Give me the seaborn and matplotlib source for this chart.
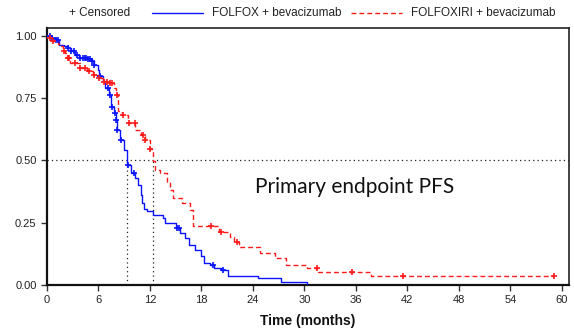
import numpy as np
import pandas as pd
import matplotlib
matplotlib.use("Agg")
import matplotlib.pyplot as plt
from matplotlib.lines import Line2D
import seaborn as sns

# Kaplan-Meier step points (months, progression-free probability)
folfox_t = [0, 0.4, 1.0, 1.4, 2.0, 2.4, 2.8, 3.3, 3.7, 4.8, 5.2, 5.5, 5.9, 6.1, 6.5,
            6.8, 7.2, 7.5, 7.8, 8.1, 8.2, 8.5, 9.0, 9.3, 9.8, 10.3, 10.6, 10.9, 11.1,
            11.3, 11.6, 12.4, 13.5, 13.8, 15.0, 15.5, 16.1, 16.5, 17.3, 17.9, 18.3,
            19.0, 19.5, 20.3, 21.1, 24.6, 27.3, 30.3]
folfox_s = [1.0, 0.99, 0.984, 0.964, 0.957, 0.95, 0.937, 0.924, 0.91, 0.905, 0.897,
            0.884, 0.863, 0.837, 0.817, 0.79, 0.763, 0.716, 0.69, 0.663, 0.62, 0.58,
            0.54, 0.48, 0.45, 0.43, 0.40, 0.36, 0.33, 0.305, 0.295, 0.28, 0.268, 0.25,
            0.23, 0.21, 0.19, 0.16, 0.14, 0.115, 0.09, 0.08, 0.07, 0.06, 0.036, 0.027,
            0.013, 0.0]
folfox_cens = [0.3, 0.6, 1.0, 1.3, 2.5, 2.8, 3.2, 3.5, 3.9, 4.2, 4.4, 4.6, 4.8, 5.0,
               5.2, 5.5, 6.2, 7.1, 7.4, 7.6, 7.9, 8.1, 8.2, 8.6, 9.4, 10.1, 15.2,
               15.4, 19.3, 20.5]

folfoxiri_t = [0, 0.3, 0.7, 1.3, 1.5, 1.9, 2.1, 2.3, 2.7, 3.8, 4.7, 5.4, 5.9, 6.5,
               7.3, 7.8, 8.1, 8.3, 8.7, 9.4, 10.3, 11.0, 11.4, 12.0, 12.4, 12.6, 13.2,
               14.0, 14.3, 14.7, 15.7, 16.7, 17.0, 20.0, 21.3, 21.8, 22.4, 24.8, 26.6,
               27.9, 30.3, 31.6, 37.8]
folfoxiri_s = [1.0, 0.99, 0.977, 0.965, 0.957, 0.94, 0.93, 0.91, 0.89, 0.87, 0.86,
               0.843, 0.83, 0.816, 0.81, 0.79, 0.763, 0.70, 0.683, 0.65, 0.62, 0.60,
               0.58, 0.546, 0.497, 0.46, 0.45, 0.415, 0.38, 0.348, 0.328, 0.30, 0.237,
               0.214, 0.194, 0.174, 0.154, 0.127, 0.107, 0.08, 0.067, 0.053, 0.036]
folfoxiri_cens = [0.3, 0.7, 2.0, 2.4, 2.6, 3.3, 3.9, 4.4, 4.9, 5.5, 6.1, 6.6, 7.0, 7.4,
                  7.6, 8.2, 8.9, 9.6, 10.2, 11.2, 11.4, 12.0, 19.1, 20.3, 22.2, 31.5,
                  35.6, 41.5, 59.1]

x_ticks = [0, 6, 12, 18, 24, 30, 36, 42, 48, 54, 60]
y_ticks = [0.0, 0.25, 0.50, 0.75, 1.00]

BLUE = "#0a14ff"
RED = "#ff1a1a"

sns.set_style("ticks")
plt.rcParams["font.family"] = ["Liberation Sans", "DejaVu Sans"]


def km_frame(t, s, cens):
    """Step data extended to the last follow-up time."""
    t = list(t)
    s = list(s)
    end = max(cens)
    if end > t[-1]:
        t.append(end)
        s.append(s[-1])
    return pd.DataFrame({"time": t, "surv": s})


def censor_frame(t, s, cens):
    idx = np.searchsorted(np.asarray(t), np.asarray(cens), side="right") - 1
    return pd.DataFrame({"time": cens, "surv": np.asarray(s)[idx]})


def median_time(t, s):
    for ti, si in zip(t, s):
        if si <= 0.5:
            return ti
    return None


fig = plt.figure(figsize=(5.74, 3.31), dpi=100)
ax = fig.add_axes([47 / 574, 46 / 331, 522 / 574, 257 / 331])

# median reference lines
ax.axhline(0.5, color="#222222", lw=0.9, ls=(0, (1, 2.5)), zorder=1)
for m in (median_time(folfox_t, folfox_s), median_time(folfoxiri_t, folfoxiri_s)):
    ax.plot([m, m], [0, 0.5], color="#222222", lw=0.9, ls=(0, (1, 2.5)), zorder=1)

# survival curves
df_b = km_frame(folfox_t, folfox_s, folfox_cens)
df_r = km_frame(folfoxiri_t, folfoxiri_s, folfoxiri_cens)
sns.lineplot(data=df_b, x="time", y="surv", ax=ax, color=BLUE, lw=1.0,
             drawstyle="steps-post", estimator=None, sort=False, zorder=3)
sns.lineplot(data=df_r, x="time", y="surv", ax=ax, color=RED, lw=1.0,
             drawstyle="steps-post", estimator=None, sort=False,
             linestyle=(0, (3.5, 2.2)), zorder=3)

# censoring marks
sns.scatterplot(data=censor_frame(folfox_t, folfox_s, folfox_cens), x="time", y="surv",
                ax=ax, marker="+", s=24, color=BLUE, linewidth=1.2, zorder=4)
sns.scatterplot(data=censor_frame(folfoxiri_t, folfoxiri_s, folfoxiri_cens), x="time",
                y="surv", ax=ax, marker="+", s=24, color=RED, linewidth=1.2, zorder=4)

ax.set_xlim(0, 60.85)
ax.set_ylim(0, 1.031)
ax.set_xticks(x_ticks)
ax.set_xticklabels([str(v) for v in x_ticks], fontsize=8, color="#222222")
ax.set_yticks(y_ticks)
ax.set_yticklabels([f"{v:.2f}" for v in y_ticks], fontsize=8, color="#222222")
ax.tick_params(axis="both", length=4, width=1.0, color="#333333", pad=3.5)
ax.set_xlabel("Time (months)", fontsize=10, fontweight="bold", color="#111111",
              labelpad=6)
ax.set_ylabel("")
for side in ("top", "right"):
    ax.spines[side].set_linewidth(1.2)
    ax.spines[side].set_color("#222222")
for side in ("left", "bottom"):
    ax.spines[side].set_linewidth(1.6)
    ax.spines[side].set_color("#111111")

ax.text(255 / 574, 1 - 187 / 331, "Primary endpoint PFS", transform=fig.transFigure,
        fontsize=15, family=["Lato", "DejaVu Sans"], color="#111111",
        va="center", ha="left")

# legend row above the plot
ly = 1 - 12.5 / 331
fig.text(69 / 574, ly, "+ Censored", fontsize=8.5, color="#222222", va="center")
fig.add_artist(Line2D([152 / 574, 203 / 574], [ly, ly], color=BLUE, lw=1.0,
                      transform=fig.transFigure))
fig.text(212 / 574, ly, "FOLFOX + bevacizumab", fontsize=8.5, color="#222222",
         va="center")
fig.add_artist(Line2D([351 / 574, 402 / 574], [ly, ly], color=RED, lw=1.0,
                      ls=(0, (3.5, 2.2)), transform=fig.transFigure))
fig.text(411 / 574, ly, "FOLFOXIRI + bevacizumab", fontsize=8.5, color="#222222",
         va="center")

fig.savefig("out.png", dpi=100, facecolor="white")
